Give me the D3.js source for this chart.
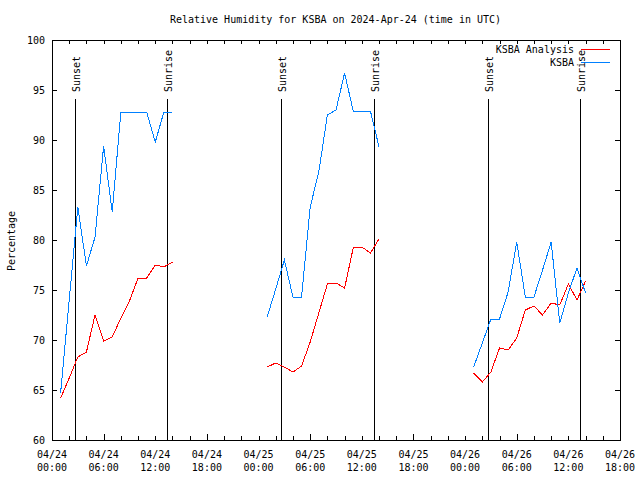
<!DOCTYPE html>
<html><head><meta charset="utf-8">
<script src="https://cdn.jsdelivr.net/npm/d3@7"></script>
<style>
body{margin:0;background:#fff}
text{font-family:"DejaVu Sans Mono","Liberation Mono",monospace;font-size:10px;fill:#000}
</style>
</head><body>
<svg id="c" width="640" height="480"></svg>
<script>
const title = "Relative Humidity for KSBA on 2024-Apr-24 (time in UTC)";
const yLabel = "Percentage";
const seriesNames = ["KSBA Analysis", "KSBA"];
const seriesColors = ["#ff0000", "#0080ff"];
const segmentStarts = ["2024-04-24T01:00:00Z", "2024-04-25T01:00:00Z", "2024-04-26T01:00:00Z"];
const analysisValues = [
  [64.2, 66.2, 68.3, 68.8, 72.5, 69.9, 70.3, 72.2, 73.9, 76.2, 76.2, 77.5, 77.3, 77.8],
  [67.3, 67.7, 67.3, 66.8, 67.4, 69.8, 72.7, 75.6, 75.7, 75.2, 79.2, 79.3, 78.7, 80.1],
  [66.7, 65.8, 66.8, 69.2, 69.0, 70.2, 73.0, 73.4, 72.5, 73.7, 73.5, 75.6, 74.0, 75.9]
];
const ksbaValues = [
  [64.7, 74.0, 83.3, 77.4, 80.3, 89.4, 82.8, 92.8, 92.8, 92.8, 92.8, 89.8, 92.8, 92.8],
  [72.3, 75.1, 78.0, 74.3, 74.3, 83.3, 86.8, 92.5, 93.0, 96.7, 92.9, 92.9, 92.9, 89.3],
  [67.3, 69.7, 72.1, 72.1, 74.8, 79.8, 74.3, 74.3, 77.0, 79.8, 71.7, 74.7, 77.2, 74.7]
];
const sunLabels = ["Sunset", "Sunrise", "Sunset", "Sunrise", "Sunset", "Sunrise"];
const sunTimes = ["2024-04-24T02:37:00Z", "2024-04-24T13:22:00Z", "2024-04-25T02:39:00Z",
                  "2024-04-25T13:28:00Z", "2024-04-26T02:42:00Z", "2024-04-26T13:23:00Z"];
const sunLineTop = 94.15;
const xDomain = ["2024-04-24T00:00:00Z", "2024-04-26T18:00:00Z"];
const yTicks = [60, 65, 70, 75, 80, 85, 90, 95, 100];

const svg = d3.select("#c");
const L = 52, R = 620, T = 40, B = 440;
const x = d3.scaleUtc().domain(xDomain.map(d => new Date(d))).range([L, R]);
const y = d3.scaleLinear().domain([60, 100]).range([B, T]);

// title
svg.append("text").attr("x", 335.5).attr("y", 23).attr("text-anchor", "middle").text(title);
// y label
svg.append("text").attr("transform", "translate(15,241) rotate(-90)").attr("text-anchor", "middle").text(yLabel);

const g = svg.append("g").attr("shape-rendering", "crispEdges");

// y ticks (left & right, inward)
yTicks.forEach(v => {
  const yy = Math.round(y(v)) + 0.5;
  g.append("line").attr("x1", L).attr("x2", L + 5).attr("y1", yy).attr("y2", yy).attr("stroke", "#000");
  g.append("line").attr("x1", R - 5).attr("x2", R).attr("y1", yy).attr("y2", yy).attr("stroke", "#000");
  svg.append("text").attr("x", 45).attr("y", y(v)).attr("dy", "0.35em").attr("text-anchor", "end").text(v);
});

// x ticks every 2h (bottom & top, inward)
const t0 = x.domain()[0], t1 = x.domain()[1];
d3.utcHour.every(2).range(t0, new Date(+t1 + 1)).forEach(t => {
  const xx = Math.round(x(t)) + 0.5;
  const h = t.getUTCHours();
  const lenB = (h === 6 || h === 18) ? 6 : 4;
  g.append("line").attr("x1", xx).attr("x2", xx).attr("y1", B).attr("y2", B - lenB).attr("stroke", "#000");
  g.append("line").attr("x1", xx).attr("x2", xx).attr("y1", T).attr("y2", T + 4).attr("stroke", "#000");
});
// x tick labels every 6h
const fmtD = d3.utcFormat("%m/%d"), fmtH = d3.utcFormat("%H:%M");
d3.utcHour.every(6).range(t0, new Date(+t1 + 1)).forEach(t => {
  const tx = svg.append("text").attr("x", x(t)).attr("y", 458).attr("text-anchor", "middle");
  tx.append("tspan").attr("x", x(t)).text(fmtD(t));
  tx.append("tspan").attr("x", x(t)).attr("dy", 13).text(fmtH(t));
});

// frame
g.append("rect").attr("x", L + 0.5).attr("y", T + 0.5).attr("width", R - L).attr("height", B - T)
  .attr("fill", "none").attr("stroke", "#000");

// sunrise/sunset lines
sunTimes.forEach((s, i) => {
  const xx = Math.round(x(new Date(s))) + 0.5;
  g.append("line").attr("x1", xx).attr("x2", xx).attr("y1", y(60)).attr("y2", y(sunLineTop)).attr("stroke", "#000");
  svg.append("text").attr("transform", `translate(${xx + 4.5},92) rotate(-90)`).text(sunLabels[i]);
});

// series
const line = d3.line().x(d => x(d.t)).y(d => y(d.v));
function toPts(vals, start) {
  const s = new Date(start);
  return vals.map((v, i) => ({ t: d3.utcHour.offset(s, i), v }));
}
[analysisValues, ksbaValues].forEach((series, si) => {
  series.forEach((seg, k) => {
    g.append("path").datum(toPts(seg, segmentStarts[k])).attr("d", line)
      .attr("fill", "none").attr("stroke", seriesColors[si]).attr("stroke-width", 1);
  });
});

// legend
seriesNames.forEach((n, i) => {
  const ly = 49.5 + i * 13;
  svg.append("text").attr("x", 574).attr("y", ly).attr("dy", "0.35em").attr("text-anchor", "end").text(n);
  g.append("line").attr("x1", 581).attr("x2", 610).attr("y1", ly).attr("y2", ly).attr("stroke", seriesColors[i]);
});
</script>
</body></html>
